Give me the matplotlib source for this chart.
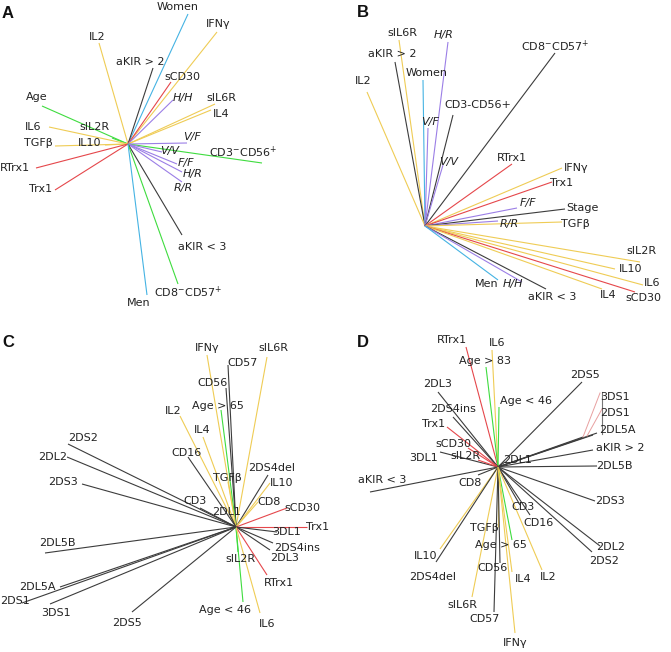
import matplotlib
matplotlib.use("Agg")
import matplotlib.pyplot as plt

# ---------------- data: vector end points relative to each panel origin ----------------
# Panel A
A_names = ["Women", "IFNγ", "IL2", "aKIR > 2", "sCD30", "H/H", "sIL6R", "IL4", "Age", "sIL2R",
           "IL6", "TGFβ", "IL10", "RTrx1", "Trx1", "V/F", r"CD3$^{-}$CD56$^{+}$", "V/V", "F/F",
           "H/R", "R/R", "aKIR < 3", r"CD8$^{-}$CD57$^{+}$", "Men"]
A_x = [60, 89, -29, 25, 43, 45, 87, 83, -86, -16, -79, -73, -23, -92, -73, 59, 134, 34, 49, 54, 54, 54, 50, 19]
A_y = [130, 112, 101, 76, 62, 44, 40, 34, 38, 6, 17, -2, -1, -24, -46, 1, -19, -8, -20, -28, -38, -91, -140, -151]
A_colors = ["C", "Y", "Y", "K", "R", "P", "Y", "Y", "G", "G", "Y", "Y", "Y", "R", "R", "P", "G", "P", "P",
            "P", "P", "K", "G", "C"]

# Panel B
B_names = ["sIL6R", "H/R", "aKIR > 2", "Women", "IL2", "V/F", "CD3-CD56+", "V/V", r"CD8$^{-}$CD57$^{+}$",
           "RTrx1", "IFNγ", "Trx1", "F/F", "Stage", "R/R", "TGFβ", "sIL2R", "IL10", "IL6", "sCD30",
           "IL4", "aKIR < 3", "H/H", "Men"]
B_x = [-26, 23, -30, -2, -58, 3, 28, 18, 130, 87, 137, 127, 92, 140, 73, 137, 215, 190, 218, 210, 177, 121, 97, 73]
B_y = [186, 184, 164, 146, 134, 98, 111, 61, 173, 62, 58, 44, 18, 17, 5, 4, -36, -43, -59, -66, -63, -63, -56, -54]
B_colors = ["Y", "P", "K", "C", "Y", "P", "K", "P", "K", "R", "Y", "R", "P", "K", "P", "Y", "Y", "Y", "Y", "R",
            "Y", "K", "P", "C"]

# Panel C
C_names = ["IFNγ", "sIL6R", "CD57", "CD56", "Age > 65", "IL2", "IL4", "CD16", "TGFβ", "2DS2", "2DL2", "2DS3",
           "CD3", "2DL1", "2DS4del", "IL10", "CD8", "sCD30", "Trx1", "3DL1", "2DS4ins", "2DL3", "RTrx1",
           "sIL2R", "Age < 46", "IL6", "2DL5B", "2DL5A", "2DS1", "3DS1", "2DS5"]
C_x = [-29, 31, -8, -10, -15, -56, -33, -48, -8, -168, -169, -154, -36, -6, 32, 34, 22, 51, 71, 41, 37, 34, 31,
       2, 7, 24, -191, -176, -214, -186, -104]
C_y = [172, 170, 162, 139, 117, 111, 90, 70, 45, 83, 70, 43, 19, 12, 52, 44, 25, 19, 0, -5, -16, -23, -48,
       -25, -75, -86, -26, -60, -76, -77, -85]
C_colors = ["Y", "Y", "K", "K", "G", "Y", "Y", "K", "Y", "K", "K", "K", "K", "K", "K", "Y", "Y", "R", "R", "K",
            "K", "K", "R", "G", "G", "Y", "K", "K", "K", "K", "K"]

# Panel D
D_names = ["RTrx1", "IL6", "Age > 83", "Age < 46", "2DL3", "2DS4ins", "Trx1", "sCD30", "3DL1", "sIL2R", "2DL1",
           "2DS5", "3DS1", "2DS1", "2DL5A", "aKIR > 2", "2DL5B", "2DS3", "2DL2", "2DS2", "CD3", "CD16",
           "aKIR < 3", "CD8", "IL10", "2DS4del", "TGFβ", "Age > 65", "CD56", "IL4", "IL2", "sIL6R", "CD57", "IFNγ"]
D_x = [-32, -6, -12, 1, -60, -45, -51, -30, -58, -20, 7, 84, 85, 95, 99, 95, 99, 97, 102, 94, 22, 32,
       -128, -20, -58, -62, 0, 14, 2, 14, 44, -26, -4, 17]
D_y = [120, 117, 100, 60, 75, 50, 40, 19, 15, 7, 5, 85, 30, 32, 34, 17, 1, -34, -79, -85, -38, -48,
       -25, -8, -82, -95, -60, -73, -96, -105, -103, -130, -145, -166]
D_colors = ["R", "Y", "G", "G", "K", "K", "R", "R", "K", "R", "K", "K", "K", "K", "K", "K", "K", "K", "K", "K",
            "K", "K", "K", "K", "Y", "K", "Y", "G", "K", "Y", "Y", "Y", "K", "Y"]

# ---------------- layout (label anchor positions, same frame) ----------------
A_lx = [50, 90, -31, 12, 54, 55, 93, 93, -91, -34, -95, -90, -38, -113, -87, 64, 115, 42, 58, 65, 55, 74, 60, 11]
A_ly = [137, 120, 107, 82, 67, 46, 46, 30, 47, 17, 17, 1, 1, -24, -45, 7, -8, -7, -19, -30, -44, -103, -148, -159]
B_lx = [-23, 19, -33, 2, -62, 5, 53, 24, 130, 87, 151, 137, 103, 157, 84, 150, 216, 206, 227, 218, 183, 127, 88, 62]
B_ly = [193, 191, 172, 153, 145, 104, 121, 64, 180, 68, 58, 43, 23, 18, 2, 2, -25, -43, -57, -72, -69, -71, -58, -58]
C_lx = [-29, 37, 7, -24, -18, -63, -34, -49, -9, -153, -183, -173, -41, -9, 36, 46, 33, 66, 82, 51, 61, 49, 43,
        4, -11, 31, -179, -199, -221, -180, -109]
C_ly = [179, 179, 164, 144, 121, 116, 97, 74, 49, 89, 70, 45, 26, 15, 59, 44, 25, 19, 0, -5, -21, -31, -56,
        -32, -83, -97, -16, -60, -74, -86, -96]
D_lx = [-46, -1, -13, 28, -60, -45, -64, -45, -74, -33, 20, 87, 117, 117, 119, 122, 116, 112, 113, 106, 25, 41,
        -116, -28, -72, -65, -14, 3, -6, 25, 50, -36, -13, 17]
D_ly = [127, 124, 106, 66, 83, 58, 43, 23, 9, 11, 7, 92, 70, 54, 37, 19, 1, -34, -80, -94, -40, -56,
        -13, -16, -89, -110, -61, -78, -101, -112, -110, -138, -152, -176]

ITALIC = {"H/H", "V/F", "V/V", "F/F", "H/R", "R/R"}
PALETTE = {"Y": "#efcc55", "G": "#3fdc3f", "C": "#45b3e3", "R": "#e5474b", "P": "#9b7ee6", "K": "#3c3c3c"}

W, H = 671, 652
fig = plt.figure(figsize=(W / 100, H / 100), dpi=100)
fig.patch.set_facecolor("white")

panels = [
    ("A", (0, 335.5, 0, 326), (128, 144), A_names, A_x, A_y, A_colors, A_lx, A_ly, (2, 6)),
    ("B", (335.5, 671, 0, 326), (425, 226), B_names, B_x, B_y, B_colors, B_lx, B_ly, (357, 5)),
    ("C", (0, 335.5, 326, 652), (236, 527), C_names, C_x, C_y, C_colors, C_lx, C_ly, (2, 335)),
    ("D", (335.5, 671, 326, 652), (498, 467), D_names, D_x, D_y, D_colors, D_lx, D_ly, (357, 335)),
]

for letter, (x0, x1, y0, y1), (cx, cy), names, xs, ys, cols, lxs, lys, (tx, ty) in panels:
    ax = fig.add_axes([x0 / W, 1 - y1 / H, (x1 - x0) / W, (y1 - y0) / H])
    ax.set_xlim(x0 - cx, x1 - cx)
    ax.set_ylim(cy - y1, cy - y0)
    ax.axis("off")
    for n, x, y, c, lx, ly in zip(names, xs, ys, cols, lxs, lys):
        ax.plot([0, x], [0, y], color=PALETTE[c], lw=0.8, solid_capstyle="butt", zorder=2)
        ax.text(lx, ly, n, fontsize=8, color="#222222", ha="center", va="center",
                style="italic" if n in ITALIC else "normal", zorder=3,
                family="DejaVu Sans")
    if letter == "D":
        # bracket and leader for the grouped labels 3DS1 / 2DS1 / 2DL5A
        ax.plot([104, 104], [33, 75], color="#777777", lw=0.8)
        ax.plot([85, 102], [30, 74], color="#e8a0a0", lw=0.7)
        ax.plot([89, 104], [31, 58], color="#e8a0a0", lw=0.7)
    fig.text(tx / W, 1 - ty / H, letter, fontsize=12, fontweight="bold", ha="left", va="top",
             family="Liberation Sans", color="#111111")

fig.savefig("out.png", dpi=100, facecolor="white")
